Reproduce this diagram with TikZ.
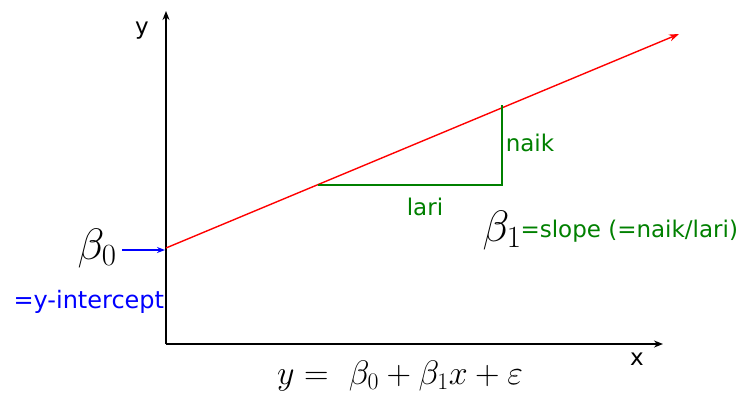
\documentclass[tikz,border=0pt]{standalone}
\usepackage{fix-cm}
\usepackage{fontspec}
\setmainfont{DejaVu Sans}
\usetikzlibrary{arrows.meta}
\definecolor{dgreen}{RGB}{0,128,0}
\tikzset{
  axis/.style={line width=1.6pt,-{Stealth[length=9pt,width=7pt]}},
  lbl/.style={font=\fontsize{23}{25}\selectfont},
  bigmath/.style={font=\fontsize{44}{46}\selectfont},
  eqn/.style={font=\fontsize{34}{36}\selectfont},
}
\begin{document}
\begin{tikzpicture}[x=1pt,y=-1pt]
\useasboundingbox (0,0) rectangle (742,399);
\coordinate (O) at (166,344);
\coordinate (ytop) at (166,11);
\coordinate (xend) at (663,344);
\draw[axis] (O) -- (ytop);
\draw[axis] (O) -- (xend);
\node[lbl] (ylab) at (142,31) {y};
\node[lbl] (xlab) at (637,359) {x};
\coordinate (r0) at (166,248);
\coordinate (r1) at (679,34);
\draw[red, line width=1.4pt, -{Stealth[length=10pt,width=7pt]}] (r0) -- (r1);
\coordinate (ta) at (318,185);
\coordinate (tb) at (502,185);
\coordinate (tc) at (502,105);
\draw[dgreen, line width=1.4pt] (ta) -- (tb) -- (tc);
\node[lbl, text=dgreen] (naik) at (530,143) {naik};
\node[lbl, text=dgreen] (lari) at (425,207) {lari};
\node[bigmath] (b0) at (97,248) {$\beta_0$};
\coordinate (b0a) at (122,250);
\coordinate (b0b) at (165,250);
\draw[blue, line width=1.6pt, -{Stealth[length=8pt,width=6pt]}] (b0a) -- (b0b);
\node[lbl, font=\fontsize{24}{26}\selectfont, text=blue, anchor=west] (yint) at (10,302) {=y-intercept};
\node[bigmath] (b1) at (502,230) {$\beta_1$};
\node[lbl, text=dgreen, anchor=west] (slope) at (517,231) {=slope (=naik/lari)};
\node[eqn] (eq) at (400,376) {$y=\ \beta_0+\beta_1x+\varepsilon$};
\end{tikzpicture}
\end{document}
